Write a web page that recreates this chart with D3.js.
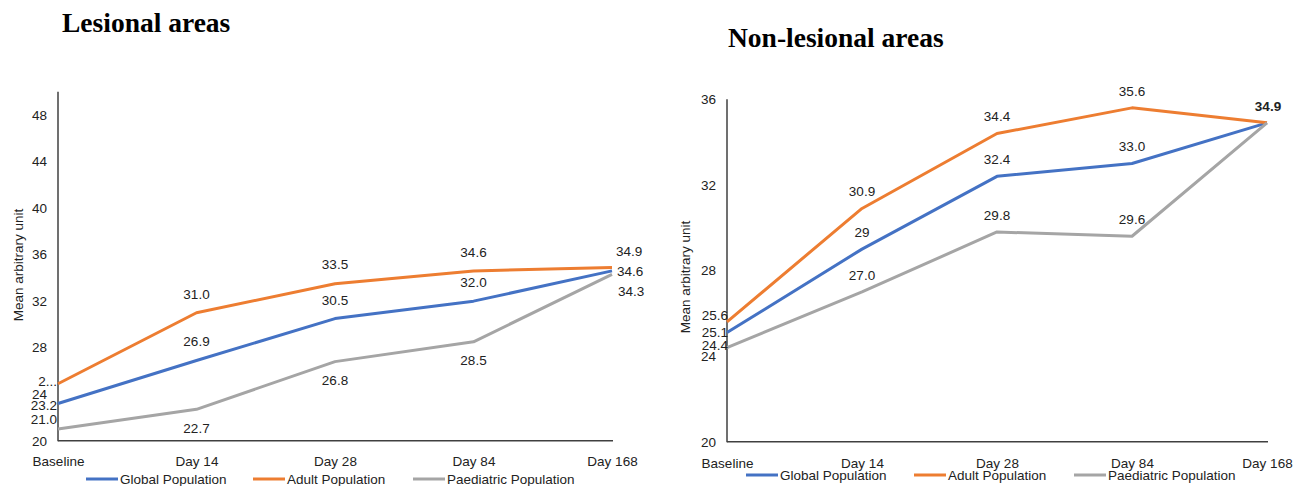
<!DOCTYPE html>
<html>
<head>
<meta charset="utf-8">
<script src="https://cdn.jsdelivr.net/npm/d3@7/dist/d3.min.js"></script>
<style>
  html, body { margin: 0; padding: 0; background: #fff; }
  svg { display: block; }
  text { font-family: "Liberation Sans", Arial, sans-serif; fill: #222; }
  .title { font-family: "Liberation Serif", "Times New Roman", serif; font-weight: bold; fill: #000; }
</style>
</head>
<body>
<svg id="chart" width="1304" height="486"></svg>
<script>
// ---------------- DATA ----------------
const categories = ["Baseline", "Day 14", "Day 28", "Day 84", "Day 168"];
const seriesNames = ["Global Population", "Adult Population", "Paediatric Population"];

// Lesional areas
const lesionalGlobal     = [23.2, 26.9, 30.5, 32.0, 34.6];
const lesionalAdult      = [24.9, 31.0, 33.5, 34.6, 34.9];
const lesionalPaediatric = [21.0, 22.7, 26.8, 28.5, 34.3];

// Non-lesional areas
const nonLesionalGlobal     = [25.1, 29.0, 32.4, 33.0, 34.9];
const nonLesionalAdult      = [25.6, 30.9, 34.4, 35.6, 34.9];
const nonLesionalPaediatric = [24.4, 27.0, 29.8, 29.6, 34.9];

// Tick values
const lesionalTicks    = [20, 24, 28, 32, 36, 40, 44, 48];
const nonLesionalTicks = [20, 24, 28, 32, 36];

// Label text as printed in the source (null = not shown)
const lesionalLabels = [
  ["23.2", "26.9", "30.5", "32.0", "34.6"],
  ["2...", "31.0", "33.5", "34.6", "34.9"],
  ["21.0", "22.7", "26.8", "28.5", "34.3"]
];
const nonLesionalLabels = [
  ["25.1", "29", "32.4", "33.0", null],
  ["25.6", "30.9", "34.4", "35.6", "34.9"],
  ["24.4", "27.0", "29.8", "29.6", null]
];

// ---------------- STYLE / LAYOUT ----------------
const colors = ["#4472C4", "#ED7D31", "#A5A5A5"];
const FS = "13.5px";
const svg = d3.select("#chart");

// label placement: [dx, dy, anchor] per series per category
const lesionalPlacement = [
  [[-1, 2, "end"], [0, -19, "middle"], [0, -18, "middle"], [0, -19, "middle"], [5, 0, "start"]],
  [[-1, -2, "end"], [0, -18, "middle"], [0, -19, "middle"], [0, -19, "middle"], [4, -16, "start"]],
  [[-1, -10, "end"], [0, 19, "middle"], [0, 19, "middle"], [0, 18, "middle"], [6, 17, "start"]]
];
const nonLesionalPlacement = [
  [[1, 0, "end"], [0, -17, "middle"], [0, -17, "middle"], [0, -17, "middle"], [0, -17, "middle"]],
  [[1, -7, "end"], [0, -17, "middle"], [0, -17, "middle"], [0, -17, "middle"], [1, -17, "middle"]],
  [[1, -2, "end"], [0, -17, "middle"], [0, -17, "middle"], [0, -17, "middle"], [0, -17, "middle"]]
];

function drawPanel(cfg) {
  const g = svg.append("g");
  const x = d3.scalePoint().domain(categories).range([cfg.x0, cfg.x1]);
  const y = d3.scaleLinear().domain(cfg.yDomain).range([cfg.yBottom, cfg.yTop]);

  // title
  g.append("text").attr("class", "title")
    .attr("x", cfg.titleX).attr("y", cfg.titleY)
    .style("font-size", "27.5px")
    .text(cfg.title);

  // y axis (labels only, plus a line)
  const yAxis = d3.axisLeft(y).tickValues(cfg.ticks).tickSize(0).tickPadding(cfg.tickPad).tickFormat(d3.format("d"));
  const ya = g.append("g").attr("transform", `translate(${cfg.x0},0)`).call(yAxis);
  ya.select(".domain").remove();
  ya.selectAll("text").style("font-size", FS).style("font-family", "Liberation Sans, Arial, sans-serif").attr("fill", "#222");

  // x axis labels
  const xAxis = d3.axisBottom(x).tickSize(0).tickPadding(cfg.xPad);
  const xa = g.append("g").attr("transform", `translate(0,${cfg.yBottom})`).call(xAxis);
  xa.select(".domain").remove();
  xa.selectAll("text").style("font-size", FS).style("font-family", "Liberation Sans, Arial, sans-serif").attr("fill", "#222");

  // axis lines
  g.append("line").attr("x1", cfg.x0).attr("x2", cfg.x0)
    .attr("y1", y(cfg.yDomain[1])).attr("y2", cfg.yBottom + 0.5)
    .attr("stroke", "#404040").attr("stroke-width", 1.5);
  g.append("line").attr("x1", cfg.x0).attr("x2", cfg.x1 + 1)
    .attr("y1", cfg.yBottom).attr("y2", cfg.yBottom)
    .attr("stroke", "#404040").attr("stroke-width", 1.5);

  // lines
  const line = d3.line().x((d, i) => x(categories[i])).y(d => y(d));
  cfg.series.forEach((vals, si) => {
    g.append("path").datum(vals)
      .attr("d", line)
      .attr("fill", "none")
      .attr("stroke", colors[si])
      .attr("stroke-width", 3)
      .attr("stroke-linejoin", "round");
  });

  // data labels
  cfg.series.forEach((vals, si) => {
    vals.forEach((v, i) => {
      const txt = cfg.labels[si][i];
      if (txt == null) return;
      const p = cfg.placement[si][i];
      const t = g.append("text")
        .attr("x", x(categories[i]) + p[0])
        .attr("y", y(v) + p[1])
        .attr("dy", "0.35em")
        .attr("text-anchor", p[2])
        .style("font-size", FS)
        .text(txt);
      if (cfg.boldLast && i === categories.length - 1) t.style("font-weight", "bold");
    });
  });

  // y axis title
  g.append("text")
    .attr("transform", `translate(${cfg.yTitleX},${cfg.yTitleY}) rotate(-90)`)
    .attr("text-anchor", "middle").attr("dy", "0.35em")
    .style("font-size", FS)
    .text("Mean arbitrary unit");

  // legend
  cfg.legendX.forEach((lx, si) => {
    g.append("line").attr("x1", lx).attr("x2", lx + 32)
      .attr("y1", cfg.legendY).attr("y2", cfg.legendY)
      .attr("stroke", colors[si]).attr("stroke-width", 3);
    g.append("text").attr("x", lx + 34).attr("y", cfg.legendY).attr("dy", "0.35em")
      .style("font-size", FS).text(seriesNames[si]);
  });
}

drawPanel({
  title: "Lesional areas", titleX: 62, titleY: 32,
  x0: 58, x1: 612, yTop: 91.8, yBottom: 440.7, yDomain: [20, 50],
  ticks: lesionalTicks, tickPad: 11, xPad: 16,
  series: [lesionalGlobal, lesionalAdult, lesionalPaediatric],
  labels: lesionalLabels, placement: lesionalPlacement,
  yTitleX: 18, yTitleY: 265,
  legendX: [86, 253, 413], legendY: 479, boldLast: false
});

drawPanel({
  title: "Non-lesional areas", titleX: 728, titleY: 47,
  x0: 727, x1: 1267, yTop: 99.3, yBottom: 441.7, yDomain: [20, 36],
  ticks: nonLesionalTicks, tickPad: 11, xPad: 17,
  series: [nonLesionalGlobal, nonLesionalAdult, nonLesionalPaediatric],
  labels: nonLesionalLabels, placement: nonLesionalPlacement,
  yTitleX: 685, yTitleY: 277,
  legendX: [746, 914, 1074], legendY: 475, boldLast: true
});
</script>
</body>
</html>
